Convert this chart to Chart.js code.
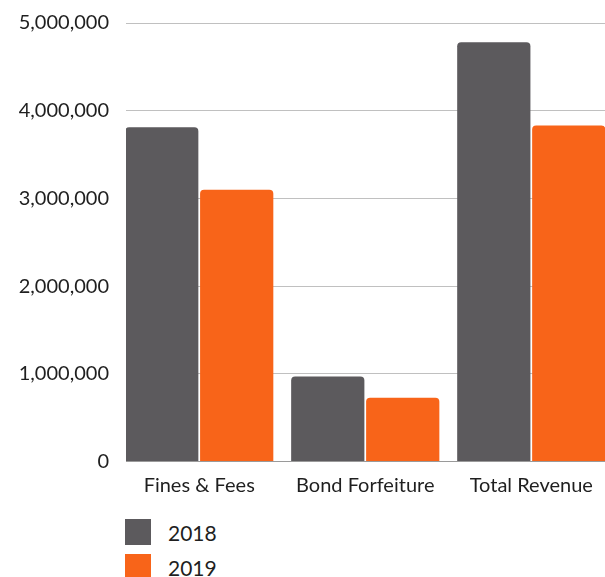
<!DOCTYPE html>
<html>
<head>
<meta charset="utf-8">
<script src="https://cdn.jsdelivr.net/npm/chart.js@4/dist/chart.umd.min.js"></script>
<style>
    html, body { margin: 0; padding: 0; background: #fff; overflow: hidden; }
    #wrap { position: relative; width: 605px; height: 577px; }
    #chart-box { position: absolute; left: 0; top: 0; width: 605px; height: 505px; }
    .legend { position: absolute; left: 125px; top: 519px; font-family: Lato, sans-serif; font-size: 21px; color: #1f1f1f; }
    .legend-item { display: flex; align-items: center; height: 26px; margin-bottom: 9px; }
    .legend-box { width: 26px; height: 26px; margin-right: 17px; }
</style>
</head>
<body>
<div id="wrap">
    <div id="chart-box"><canvas id="revenue-chart"></canvas></div>
    <div class="legend" id="legend"></div>
</div>
<script>
// Dados do gráfico
const categories = ['Fines & Fees', 'Bond Forfeiture', 'Total Revenue'];
const seriesNames = ['2018', '2019'];
const values2018 = [3810000, 970000, 4780000];
const values2019 = [3100000, 727000, 3830000];
const yTicks = [0, 1000000, 2000000, 3000000, 4000000, 5000000];

const colors = ['#5c5a5d', '#f86419'];

document.addEventListener("DOMContentLoaded", function() {
    const chart = initRevenueChart();
    buildLegend(chart);
});

// Cria o gráfico de barras
function initRevenueChart() {
    const ctx = document.getElementById('revenue-chart');
    const toPoints = arr => arr.map((v, i) => ({ x: i, y: v }));

    return new Chart(ctx, {
        type: 'bar',
        data: {
            datasets: [
                { label: seriesNames[0], data: toPoints(values2018), backgroundColor: colors[0] },
                { label: seriesNames[1], data: toPoints(values2019), backgroundColor: colors[1] }
            ]
        },
        options: {
            responsive: true,
            maintainAspectRatio: false,
            animation: false,
            layout: { padding: { top: 23, right: 0, bottom: 0, left: 0 } },
            datasets: {
                bar: {
                    categoryPercentage: 0.903,
                    barPercentage: 0.977,
                    borderRadius: { topLeft: 4, topRight: 4 },
                    borderSkipped: 'bottom'
                }
            },
            plugins: {
                legend: { display: false },
                tooltip: { enabled: false }
            },
            scales: {
                x: {
                    // eixo linear para as barras encostarem nas bordas
                    type: 'linear',
                    min: -0.441,
                    max: 2.444,
                    bounds: 'data',
                    offset: false,
                    grid: { display: false },
                    border: { display: true, color: '#9a9a9a', width: 1 },
                    afterBuildTicks: function(scale) {
                        scale.ticks = categories.map((c, i) => ({ value: i }));
                    },
                    afterFit: function(scale) { scale.height = 43.5; },
                    ticks: {
                        padding: 4,
                        color: '#1f1f1f',
                        font: { family: 'Lato', size: 20 },
                        maxRotation: 0,
                        autoSkip: false,
                        callback: v => categories[v]
                    }
                },
                y: {
                    min: 0,
                    max: 5000000,
                    afterBuildTicks: function(scale) {
                        scale.ticks = yTicks.map(v => ({ value: v }));
                    },
                    afterFit: function(scale) {
                        scale.width = 126;
                        scale.paddingTop = 0;
                        scale.paddingBottom = 0;
                    },
                    grid: { color: '#c0c0c0', drawTicks: false, lineWidth: 1 },
                    border: { display: false },
                    ticks: {
                        padding: 17,
                        color: '#1f1f1f',
                        font: { family: 'Lato', size: 20 },
                        callback: v => v.toLocaleString('en-US')
                    }
                }
            }
        }
    });
}

// Legenda vertical em HTML
function buildLegend(chart) {
    const legend = document.getElementById('legend');
    chart.data.datasets.forEach(ds => {
        const item = document.createElement('div');
        item.className = 'legend-item';
        item.innerHTML = `<span class="legend-box" style="background:${ds.backgroundColor}"></span><span>${ds.label}</span>`;
        legend.appendChild(item);
    });
}
</script>
</body>
</html>
